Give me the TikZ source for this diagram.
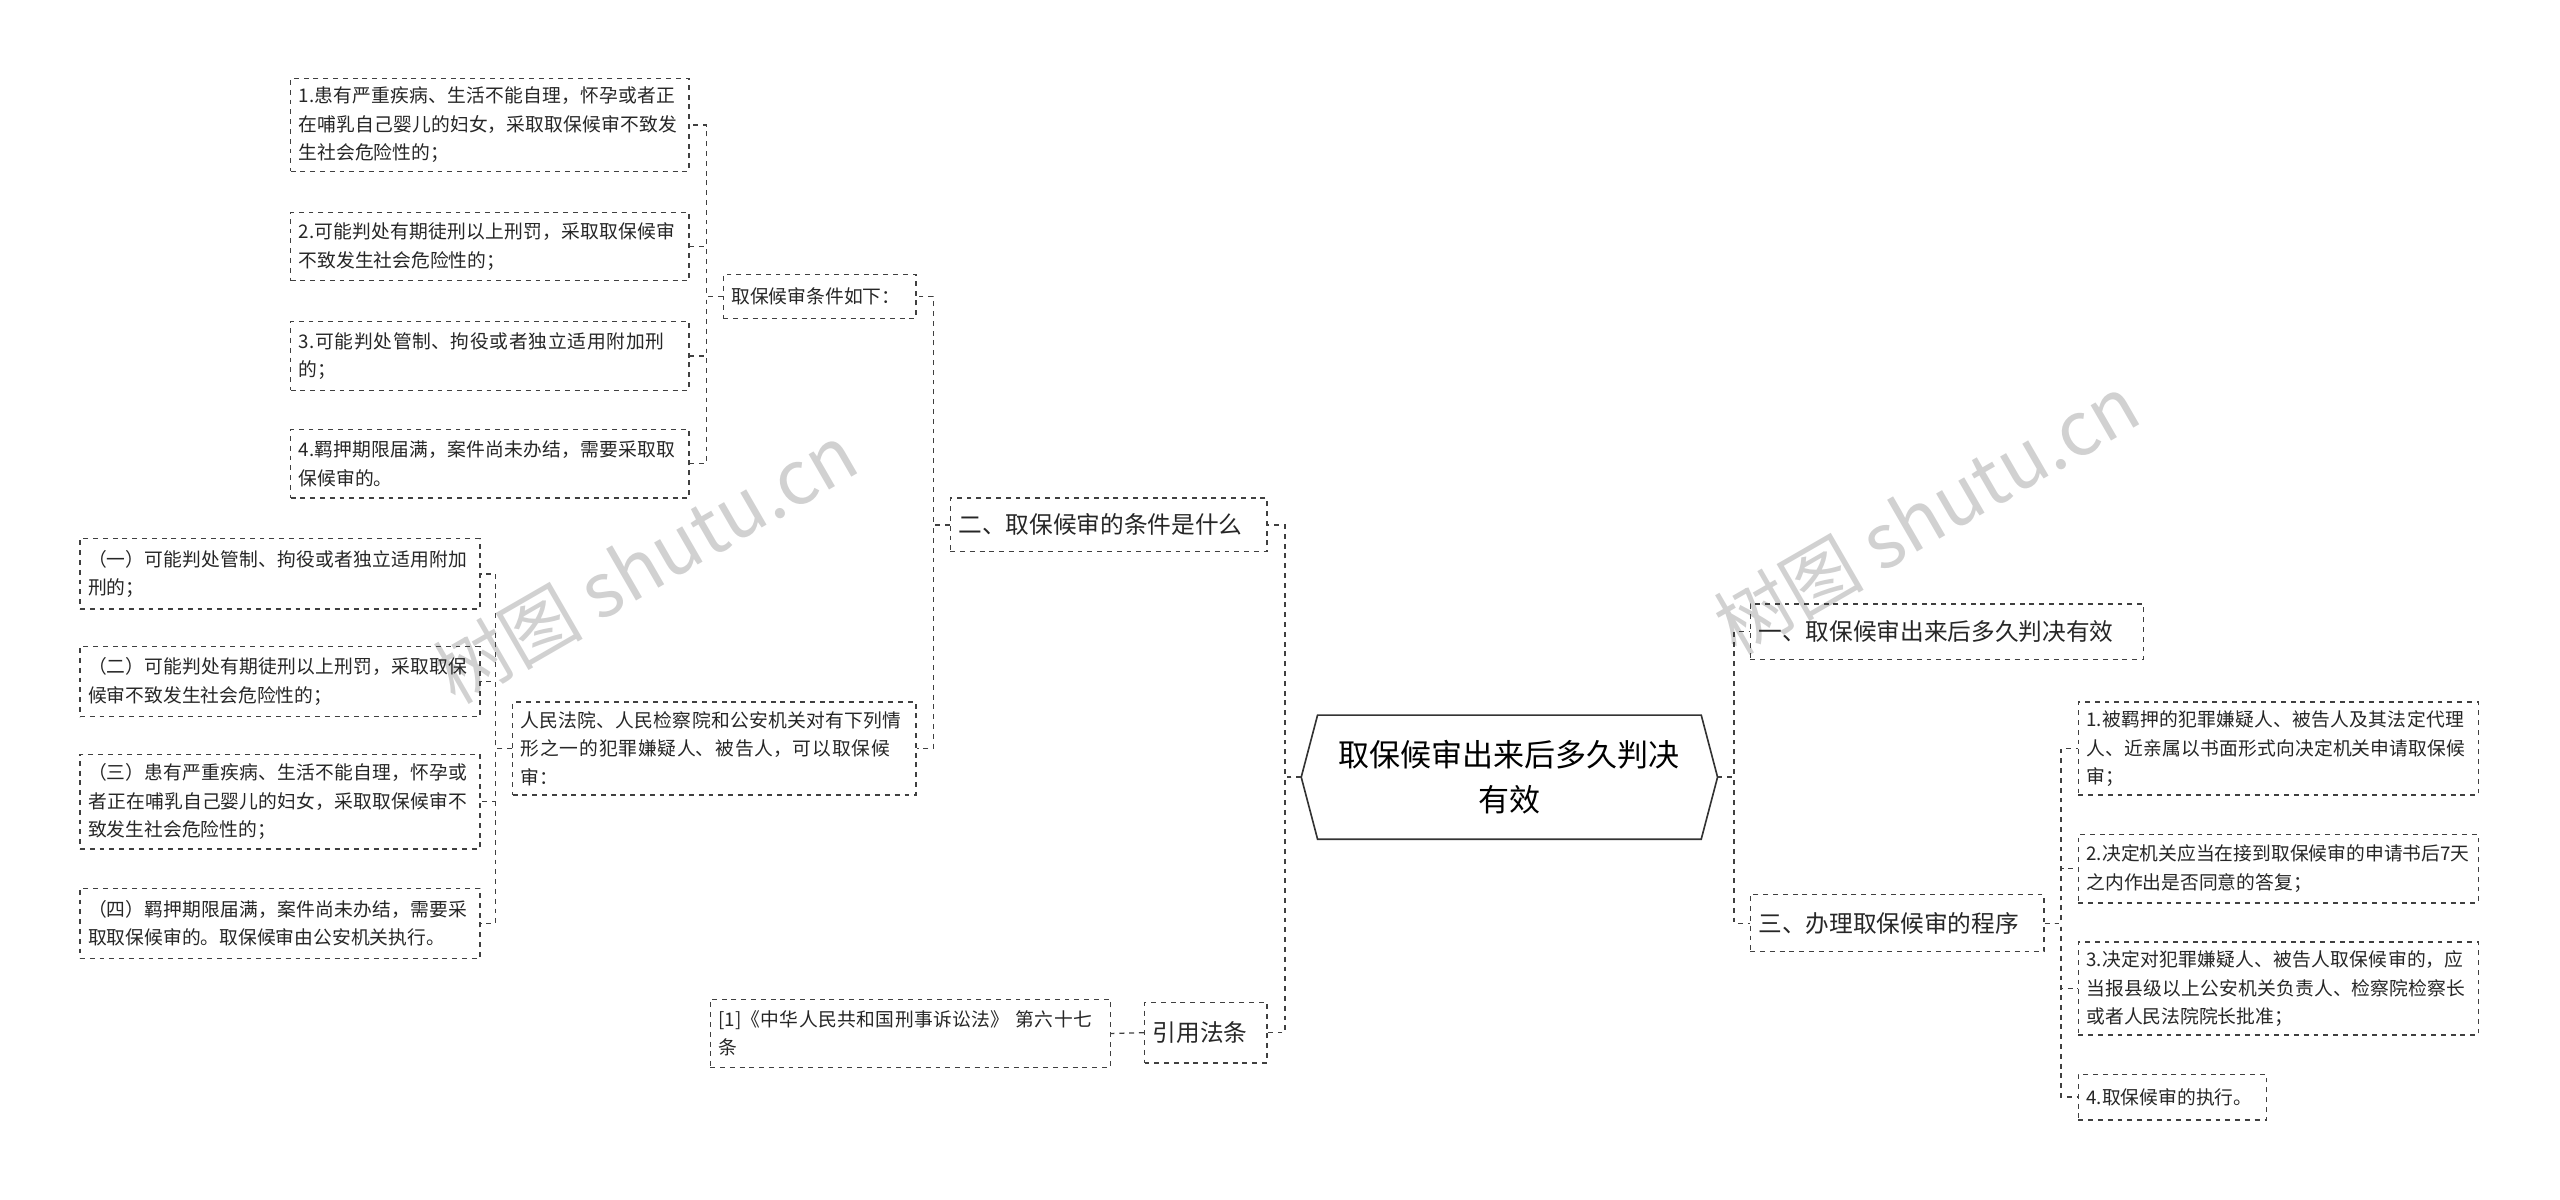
\documentclass[tikz,border=0pt]{standalone}
\usepackage{fontspec}
\setmainfont{Noto Sans CJK SC}
\XeTeXlinebreaklocale "zh"
\XeTeXlinebreakskip=0pt plus 1pt
\begin{document}
\begin{tikzpicture}[x=1pt,y=-1pt,
  box/.style={draw=black!75,dashed,line width=0.8pt,align=left,inner sep=0pt,font=\fontsize{11.5}{17.5}\selectfont,text=black!85},
  big/.style={box,font=\fontsize{14.5}{20}\selectfont},
  conn/.style={draw=black!75,dashed,line width=0.8pt}]
\useasboundingbox (0,0) rectangle (1568,735);
\newcommand\bx[7][box]{\pgfmathsetmacro\tw{#5-#3-10}%
  \node[#1,minimum width={(#5-#3)*1pt},minimum height={(#6-#4)*1pt},text width=\tw pt] (#2) at ({(#3+#5)/2},{(#4+#6)/2}) {#7};}
% watermarks
\node[rotate=30,text=black!18,font=\fontsize{46}{50}\selectfont] at (395,345) {树图 shutu.cn};
\node[rotate=30,text=black!18,font=\fontsize{46}{50}\selectfont] at (1180,315) {树图 shutu.cn};
% root
\draw[black!80,line width=1pt] (797,476)--(807,438)--(1042,438)--(1052,476)--(1042,514)--(807,514)--cycle;
\node[font=\fontsize{19}{27}\selectfont,align=center] (root) at (924.5,476) {取保候审出来后多久判决\\有效};
\coordinate (rl) at (797,476); \coordinate (rr) at (1052,476);
% right
\bx[big]{r1}{1072}{370}{1313}{404}{一、取保候审出来后多久判决有效}
\bx[big]{r3}{1072}{548}{1252}{583}{三、办理取保候审的程序}
\bx{p1}{1273}{430}{1518}{487}{1.被羁押的犯罪嫌疑人、被告人及其法定代理人、近亲属以书面形式向决定机关申请取保候审；}
\bx{p2}{1273}{511}{1518}{553}{2.决定机关应当在接到取保候审的申请书后7天之内作出是否同意的答复；}
\bx{p3}{1273}{577}{1518}{634}{3.决定对犯罪嫌疑人、被告人取保候审的，应当报县级以上公安机关负责人、检察院检察长或者人民法院院长批准；}
\bx{p4}{1273}{658}{1388}{686}{4.取保候审的执行。}
% left
\bx[big]{l2}{582}{305}{776}{338}{二、取保候审的条件是什么}
\bx{c0}{443}{168}{561}{195}{取保候审条件如下：}
\bx{c1}{178}{48}{422}{105}{1.患有严重疾病、生活不能自理，怀孕或者正在哺乳自己婴儿的妇女，采取取保候审不致发生社会危险性的；}
\bx{c2}{178}{130}{422}{172}{2.可能判处有期徒刑以上刑罚，采取取保候审不致发生社会危险性的；}
\bx{c3}{178}{197}{422}{239}{3.可能判处管制、拘役或者独立适用附加刑的；}
\bx{c4}{178}{263}{422}{305}{4.羁押期限届满，案件尚未办结，需要采取取保候审的。}
\bx{d0}{314}{430}{561}{487}{人民法院、人民检察院和公安机关对有下列情形之一的犯罪嫌疑人、被告人，可以取保候审：}
\bx{d1}{49}{330}{294}{373}{（一）可能判处管制、拘役或者独立适用附加刑的；}
\bx{d2}{49}{396}{294}{439}{（二）可能判处有期徒刑以上刑罚，采取取保候审不致发生社会危险性的；}
\bx{d3}{49}{462}{294}{520}{（三）患有严重疾病、生活不能自理，怀孕或者正在哺乳自己婴儿的妇女，采取取保候审不致发生社会危险性的；}
\bx{d4}{49}{544}{294}{587}{（四）羁押期限届满，案件尚未办结，需要采取取保候审的。取保候审由公安机关执行。}
\bx[big]{l3}{701}{614}{776}{651}{引用法条}
\bx{e1}{435}{612}{680}{654}{[1]《中华人民共和国刑事诉讼法》 第六十七条}
% connectors
\foreach \c in {l2,l3} \draw[conn] (rl) -- ++(-10,0) |- (\c.east);
\foreach \c in {r1,r3} \draw[conn] (rr) -- ++(10,0) |- (\c.west);
\foreach \c in {p1,p2,p3,p4} \draw[conn] (r3.east) -- ++(10,0) |- (\c.west);
\foreach \c in {c0,d0} \draw[conn] (l2.west) -- ++(-10,0) |- (\c.east);
\foreach \c in {c1,c2,c3,c4} \draw[conn] (c0.west) -- ++(-10,0) |- (\c.east);
\foreach \c in {d1,d2,d3,d4} \draw[conn] (d0.west) -- ++(-10,0) |- (\c.east);
\draw[conn] (l3.west) -- (e1.east);
\end{tikzpicture}
\end{document}
